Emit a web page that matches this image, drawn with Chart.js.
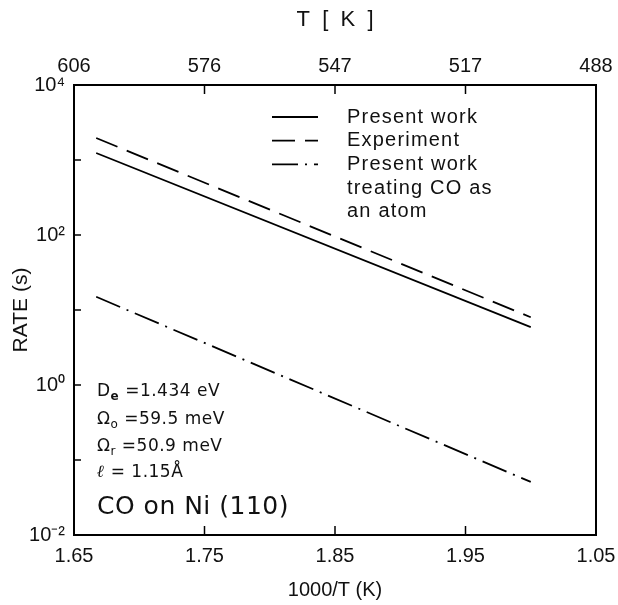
<!DOCTYPE html>
<html><head><meta charset="utf-8">
<script src="https://cdn.jsdelivr.net/npm/chart.js@4.4.1/dist/chart.umd.min.js"></script>
<style>html,body{margin:0;padding:0;background:#fff}</style>
</head><body>
<canvas id="c" width="618" height="605"></canvas>
<script>
// ---- data ----
const xTickValues = [1.65, 1.75, 1.85, 1.95, 2.05];
const xTickLabels = ['1.65', '1.75', '1.85', '1.95', '1.05'];
const topTickLabels = ['606', '576', '547', '517', '488'];
const yTickValues = [0.01, 0.1, 1, 10, 100, 1000, 10000];
const yTickLabels = ['10\u207B\u00B2', '', '10\u2070', '', '10\u00B2', '', '10\u2074'];

const presentWorkX = [1.667, 2.000];
const presentWorkY = [1240, 5.9];
const experimentX = [1.667, 2.000];
const experimentY = [1965, 8.0];
const atomX = [1.667, 2.000];
const atomY = [15, 0.051];

const seriesNames = ['Present work', 'Experiment', 'Present work treating CO as an atom'];
const legendLines = [['Present work'], ['Experiment'], ['Present work', 'treating CO as', 'an atom']];
const paramLines = [
  [['D', 'n'], ['e', 'subb'], [' =1.434 eV', 'n']],
  [['\u03A9', 'n'], ['o', 'sub'], [' =59.5 meV', 'n']],
  [['\u03A9', 'n'], ['r', 'sub'], [' =50.9 meV', 'n']],
  [['\u2113', 'b'], [' = 1.15\u00C5', 'n']]
];
const systemLabel = 'CO on Ni (110)';

const pts = (xs, ys) => xs.map((x, i) => ({ x, y: ys[i] }));
const FONT = 'Liberation Sans';

const frame = {
  id: 'frame',
  afterDraw(chart) {
    const { ctx, chartArea: a, scales } = chart;
    ctx.save();
    ctx.strokeStyle = '#000';
    ctx.lineWidth = 2;
    ctx.strokeRect(a.left, a.top, a.right - a.left, a.bottom - a.top);
    ctx.lineWidth = 1.5;
    const seg = (x1, y1, x2, y2) => { ctx.beginPath(); ctx.moveTo(x1, y1); ctx.lineTo(x2, y2); ctx.stroke(); };
    xTickValues.slice(1, -1).forEach(v => {
      const px = scales.x.getPixelForValue(v);
      seg(px, a.bottom, px, a.bottom - 9);
      seg(px, a.top, px, a.top + 9);
    });
    yTickValues.slice(1, -1).forEach(v => {
      const py = scales.y.getPixelForValue(v);
      seg(a.left, py, a.left + 7, py);
    });

    // legend
    const ds = chart.data.datasets;
    const lx0 = a.left + 198, lx1 = a.left + 244, tx = a.left + 273;
    let row = 0;
    ctx.fillStyle = '#111';
    ctx.font = '20px "' + FONT + '"';
    ctx.textBaseline = 'middle';
    ctx.textAlign = 'left';
    ctx.letterSpacing = '1.2px';
    legendLines.forEach((lines, i) => {
      const y = a.top + 32 + row * 23.7;
      ctx.save();
      ctx.strokeStyle = '#000';
      ctx.lineWidth = ds[i].borderWidth;
      ctx.setLineDash(ds[i].borderDash || []);
      seg(lx0, y, lx1, y);
      ctx.restore();
      lines.forEach((t, j) => {
        ctx.fillText(t, tx, a.top + 32 + (row + j) * 23.7);
      });
      row += lines.length;
    });

    // parameter annotations
    ctx.letterSpacing = '0.5px';
    const px0 = a.left + 23;
    const rowsY = [392, 420, 447, 473];
    paramLines.forEach((parts, i) => {
      let x = px0;
      const y = rowsY[i];
      parts.forEach(([t, k]) => {
        if (k === 'n') ctx.font = '17px "DejaVu Sans"';
        else if (k === 'b') ctx.font = 'italic bold 17px "DejaVu Serif"';
        else if (k === 'sub') ctx.font = '12px "DejaVu Sans"';
        else if (k === 'subb') ctx.font = 'bold 12px "DejaVu Sans"';
        const dy = (k === 'sub' || k === 'subb') ? 5 : 0;
        ctx.fillText(t, x, y + dy);
        x += ctx.measureText(t).width;
      });
    });
    ctx.font = '25px "DejaVu Sans"';
    ctx.letterSpacing = '0.5px';
    ctx.fillText(systemLabel, px0, 507);
    ctx.restore();
  }
};

const noSidePad = s => { s.paddingLeft = 0; s.paddingRight = 0; };

new Chart(document.getElementById('c'), {
  type: 'line',
  data: {
    datasets: [
      { label: seriesNames[0], data: pts(presentWorkX, presentWorkY), borderColor: '#000', borderWidth: 1.8, borderDash: [], pointRadius: 0, tension: 0, xAxisID: 'x', yAxisID: 'y' },
      { label: seriesNames[1], data: pts(experimentX, experimentY), borderColor: '#000', borderWidth: 1.8, borderDash: [23, 10], pointRadius: 0, tension: 0, xAxisID: 'x', yAxisID: 'y' },
      { label: seriesNames[2], data: pts(atomX, atomY), borderColor: '#000', borderWidth: 1.8, borderDash: [26, 7, 2, 7], pointRadius: 0, tension: 0, xAxisID: 'x', yAxisID: 'y' }
    ]
  },
  options: {
    responsive: false,
    animation: false,
    devicePixelRatio: 1,
    layout: { padding: { left: 0, right: 22, top: 0, bottom: 0 } },
    plugins: { legend: { display: false }, tooltip: { enabled: false } },
    scales: {
      x: {
        type: 'linear', position: 'bottom', min: 1.65, max: 2.05,
        grid: { display: false, drawTicks: false }, border: { display: false },
        afterBuildTicks: s => { s.ticks = xTickValues.map(v => ({ value: v })); },
        afterFit: s => { s.height = 70; noSidePad(s); },
        ticks: { autoSkip: false, maxRotation: 0, padding: 9, color: '#111', font: { family: FONT, size: 20 },
          callback: (v, i) => xTickLabels[i] },
        title: { display: true, text: '1000/T (K)', color: '#111', font: { family: FONT, size: 20 }, padding: { top: 0, bottom: 3 } }
      },
      x2: {
        type: 'linear', position: 'top', min: 1.65, max: 2.05,
        grid: { display: false, drawTicks: false }, border: { display: false },
        afterBuildTicks: s => { s.ticks = xTickValues.map(v => ({ value: v })); },
        afterFit: s => { s.height = 85; noSidePad(s); },
        ticks: { autoSkip: false, maxRotation: 0, padding: 7, color: '#111', font: { family: FONT, size: 20 },
          callback: (v, i) => topTickLabels[i] },
        title: { display: true, text: 'T  [  K  ]', color: '#111', font: { family: FONT, size: 22 }, padding: { top: 7, bottom: 0 } }
      },
      y: {
        type: 'logarithmic', position: 'left', min: 0.01, max: 10000,
        grid: { display: false, drawTicks: false }, border: { display: false },
        afterBuildTicks: s => { s.ticks = yTickValues.map(v => ({ value: v })); },
        afterFit: s => { s.width = 74; },
        ticks: { autoSkip: false, padding: 9, color: '#111', font: { family: FONT, size: 20 },
          callback: (v, i) => yTickLabels[i] },
        title: { display: true, text: 'RATE (s)', color: '#111', font: { family: FONT, size: 21 }, padding: { top: 9, bottom: 0 } }
      }
    }
  },
  plugins: [frame]
});
</script>
</body></html>
